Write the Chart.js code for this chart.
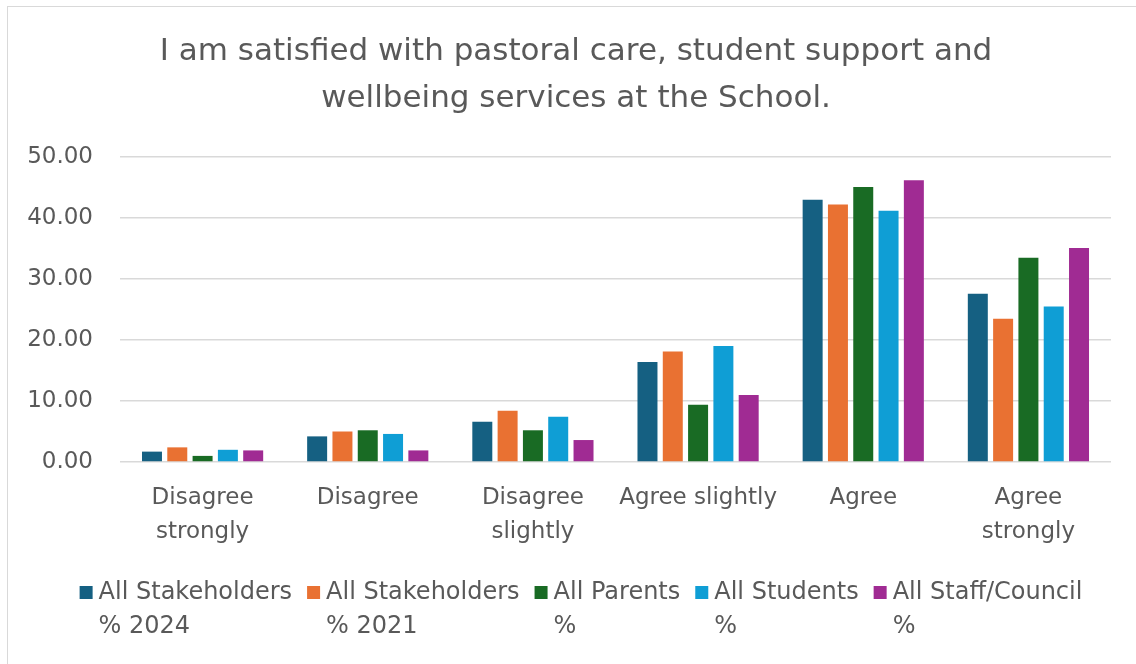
<!DOCTYPE html>
<html>
<head>
<meta charset="utf-8">
<script src="https://cdn.jsdelivr.net/npm/chart.js@4.4.1/dist/chart.umd.min.js"></script>
<style>
  html, body { margin: 0; padding: 0; background: #ffffff; overflow: hidden; }
  #wrap { position: relative; width: 1136px; height: 664px; overflow: hidden; background: #ffffff; }
  #frame { position: absolute; left: 7px; top: 6px; right: 0; bottom: 0;
           border-left: 1.5px solid #d9d9d9; border-top: 1.5px solid #d9d9d9; }
  #c { position: absolute; left: 0; top: 0; }
</style>
</head>
<body>
<div id="wrap">
  <div id="frame"></div>
  <canvas id="c" width="1136" height="664"></canvas>
</div>
<script>
// Survey question shown as the chart title
const titleLines = [
  "I am satisfied with pastoral care, student support and",
  "wellbeing services at the School."
];

// Response categories (x axis)
const categories = [
  ["Disagree", "strongly"],
  "Disagree",
  ["Disagree", "slightly"],
  "Agree slightly",
  "Agree",
  ["Agree", "strongly"]
];

// Percentage of respondents per category
const stakeholders2024 = [1.7, 4.2, 6.6, 16.4, 43.0, 27.6];
const stakeholders2021 = [2.4, 5.0, 8.4, 18.1, 42.2, 23.5];
const parents          = [1.0, 5.2, 5.2, 9.4, 45.1, 33.5];
const students         = [2.0, 4.6, 7.4, 19.0, 41.2, 25.5];
const staffCouncil     = [1.9, 1.9, 3.6, 11.0, 46.2, 35.1];

// Series names (two lines each) and colours
const seriesNames = [
  ["All Stakeholders", "% 2024"],
  ["All Stakeholders", "% 2021"],
  ["All Parents", "%"],
  ["All Students", "%"],
  ["All Staff/Council", "%"]
];
const seriesColors = ["#156082", "#E97132", "#196B24", "#0F9ED5", "#A02B93"];
const seriesValues = [stakeholders2024, stakeholders2021, parents, students, staffCouncil];

// Value axis
const yMin = 0, yMax = 50, yStep = 10;

const FONT = "'DejaVu Sans', sans-serif";
const TEXT = "#595959";

// Two-line title drawn above the plot
const titlePlugin = {
  id: "twoLineTitle",
  afterDraw(chart) {
    const ctx = chart.ctx;
    ctx.save();
    ctx.font = "31px " + FONT;
    ctx.fillStyle = TEXT;
    ctx.textAlign = "center";
    ctx.textBaseline = "middle";
    const cx = 576;
    titleLines.forEach((line, i) => ctx.fillText(line, cx, 52 + i * 47));
    ctx.restore();
  }
};

// Legend with wrapped series names, laid out in one row below the axis labels
const legendPlugin = {
  id: "wrappedLegend",
  afterDraw(chart) {
    const ctx = chart.ctx;
    ctx.save();
    ctx.font = "24px " + FONT;
    ctx.fillStyle = TEXT;
    ctx.textBaseline = "alphabetic";
    ctx.textAlign = "left";
    const box = 13, boxGap = 6, itemGap = 15;
    const widths = chart.data.datasets.map(ds =>
      Math.max(...ds.label.map(t => ctx.measureText(t).width)));
    const total = widths.reduce((a, w) => a + box + boxGap + w, 0) + itemGap * (widths.length - 1);
    let x = 581 - total / 2;
    chart.data.datasets.forEach((ds, i) => {
      ctx.fillStyle = ds.backgroundColor;
      ctx.fillRect(x, 586, box, box);
      ctx.fillStyle = TEXT;
      ds.label.forEach((t, j) => ctx.fillText(t, x + box + boxGap, 599 + j * 34));
      x += box + boxGap + widths[i] + itemGap;
    });
    ctx.restore();
  }
};

new Chart(document.getElementById("c"), {
  type: "bar",
  data: {
    labels: categories,
    datasets: seriesValues.map((vals, i) => ({
      label: seriesNames[i],
      data: vals,
      backgroundColor: seriesColors[i],
      borderWidth: 0,
      categoryPercentage: 0.766,
      barPercentage: 0.79
    }))
  },
  options: {
    responsive: false,
    animation: false,
    devicePixelRatio: 1,
    events: [],
    layout: { padding: { left: 8, right: 25, top: 157, bottom: 92 } },
    plugins: {
      legend: { display: false },
      title: { display: false },
      tooltip: { enabled: false }
    },
    scales: {
      x: {
        grid: { display: false, drawTicks: false },
        border: { display: false },
        ticks: {
          color: TEXT,
          font: { family: FONT, size: 23, lineHeight: 34 / 23 },
          padding: 19,
          maxRotation: 0,
          autoSkip: false
        },
        afterFit(scale) { scale.height = 110; }
      },
      y: {
        min: yMin,
        max: yMax,
        grid: { color: "#d9d9d9", lineWidth: 1.5, drawTicks: false },
        border: { display: false },
        ticks: {
          stepSize: yStep,
          color: TEXT,
          font: { family: FONT, size: 23 },
          padding: 27,
          callback: v => Number(v).toFixed(2)
        },
        afterFit(scale) { scale.width = 112; }
      }
    }
  },
  plugins: [titlePlugin, legendPlugin]
});
</script>
</body>
</html>
